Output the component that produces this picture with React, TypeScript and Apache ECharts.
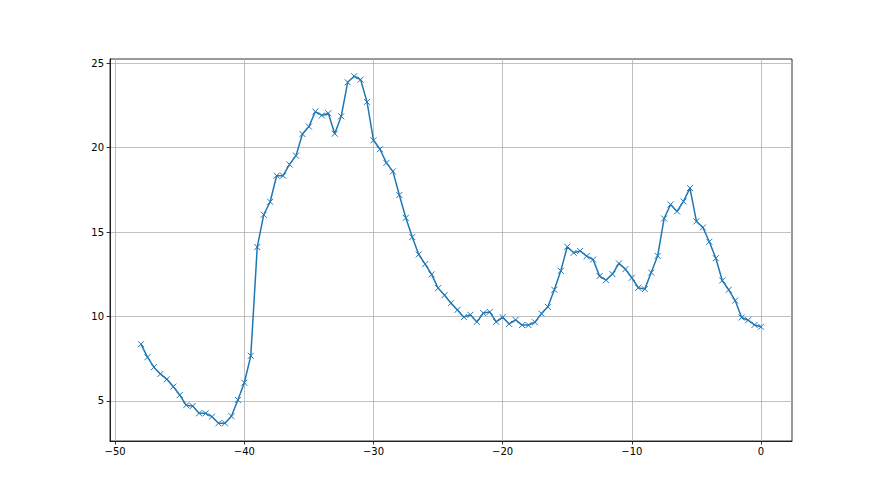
import React, { useEffect, useRef } from "react";
import * as echarts from "echarts";

const xValues: number[] = [
  -48, -47.5, -47, -46.5, -46, -45.5, -45, -44.5, -44, -43.5, -43, -42.5, -42, -41.5, -41, -40.5,
  -40, -39.5, -39, -38.5, -38, -37.5, -37, -36.5, -36, -35.5, -35, -34.5, -34, -33.5, -33, -32.5,
  -32, -31.5, -31, -30.5, -30, -29.5, -29, -28.5, -28, -27.5, -27, -26.5, -26, -25.5, -25, -24.5,
  -24, -23.5, -23, -22.5, -22, -21.5, -21, -20.5, -20, -19.5, -19, -18.5, -18, -17.5, -17, -16.5,
  -16, -15.5, -15, -14.5, -14, -13.5, -13, -12.5, -12, -11.5, -11, -10.5, -10, -9.5, -9, -8.5,
  -8, -7.5, -7, -6.5, -6, -5.5, -5, -4.5, -4, -3.5, -3, -2.5, -2, -1.5, -1, -0.5, 0,
];

const yValues: number[] = [
  8.36, 7.59, 7.0, 6.6, 6.28, 5.85, 5.35, 4.75, 4.7, 4.27, 4.27, 4.07, 3.68, 3.68, 4.1, 5.06,
  6.08, 7.67, 14.11, 16.02, 16.79, 18.33, 18.33, 19.0, 19.52, 20.8, 21.24, 22.13, 21.9, 22.03, 20.82, 21.85,
  23.86, 24.22, 24.02, 22.7, 20.43, 19.9, 19.09, 18.59, 17.19, 15.84, 14.7, 13.67, 13.1, 12.49, 11.68, 11.26,
  10.79, 10.39, 9.96, 10.1, 9.68, 10.2, 10.27, 9.68, 9.96, 9.56, 9.8, 9.49, 9.49, 9.66, 10.17, 10.57,
  11.58, 12.7, 14.13, 13.77, 13.88, 13.57, 13.37, 12.39, 12.15, 12.51, 13.14, 12.8, 12.29, 11.7, 11.62, 12.6,
  13.59, 15.8, 16.63, 16.22, 16.81, 17.6, 15.63, 15.27, 14.42, 13.45, 12.13, 11.58, 10.94, 9.94, 9.78, 9.5, 9.39,
];

const xTicks: number[] = [-50, -40, -30, -20, -10, 0];
const yTicks: number[] = [5, 10, 15, 20, 25];

const fmt = (v: number) => String(v).replace("-", "\u2212");

export default function App() {
  const ref = useRef<HTMLDivElement>(null);
  useEffect(() => {
    if (!ref.current) return;
    const chart = echarts.init(ref.current, undefined, { renderer: "svg" });
    const data = xValues.map((x, i) => [x, yValues[i]]);
    const labelStyle = {
      color: "#000",
      fontFamily: "DejaVu Sans",
      fontSize: 10,
    };
    chart.setOption({
      animation: false,
      backgroundColor: "#fff",
      grid: {
        left: 110,
        right: 88,
        top: 59,
        bottom: 54,
        show: true,
        borderColor: "#000",
        borderWidth: 0.8,
        backgroundColor: "transparent",
      },
      xAxis: {
        type: "value",
        min: -50.4,
        max: 2.4,
        axisLine: { show: true, onZero: false, lineStyle: { color: "#000", width: 0.8 } },
        axisTick: {
          show: true,
          inside: false,
          length: 3.5,
          customValues: xTicks,
          lineStyle: { color: "#000", width: 0.8 },
        },
        axisLabel: {
          ...labelStyle,
          margin: 5,
          customValues: xTicks,
          formatter: (v: number) => fmt(v),
          showMinLabel: true,
          showMaxLabel: true,
        },
        splitLine: { show: true, lineStyle: { color: "#b0b0b0", width: 0.8 } },
      },
      yAxis: {
        type: "value",
        min: 2.63,
        max: 25.24,
        axisLine: { show: true, onZero: false, lineStyle: { color: "#000", width: 0.8 } },
        axisTick: {
          show: true,
          inside: false,
          length: 3.5,
          customValues: yTicks,
          lineStyle: { color: "#000", width: 0.8 },
        },
        axisLabel: {
          ...labelStyle,
          margin: 6,
          customValues: yTicks,
          formatter: (v: number) => fmt(v),
        },
        splitLine: { show: true, lineStyle: { color: "#b0b0b0", width: 0.8 } },
      },
      series: [
        {
          type: "line",
          data,
          symbol: "path://M0,0L10,10M10,0L0,10",
          symbolSize: 6,
          showAllSymbol: true,
          lineStyle: { color: "#1f77b4", width: 1.5 },
          itemStyle: { color: "rgba(0,0,0,0)", borderColor: "#1f77b4", borderWidth: 1 },
          emphasis: { disabled: true },
        },
      ],
    });
    return () => chart.dispose();
  }, []);
  return (
    <div
      ref={ref}
      style={{ position: "fixed", left: 0, top: 0, width: 880, height: 495, background: "#fff" }}
    />
  );
}
